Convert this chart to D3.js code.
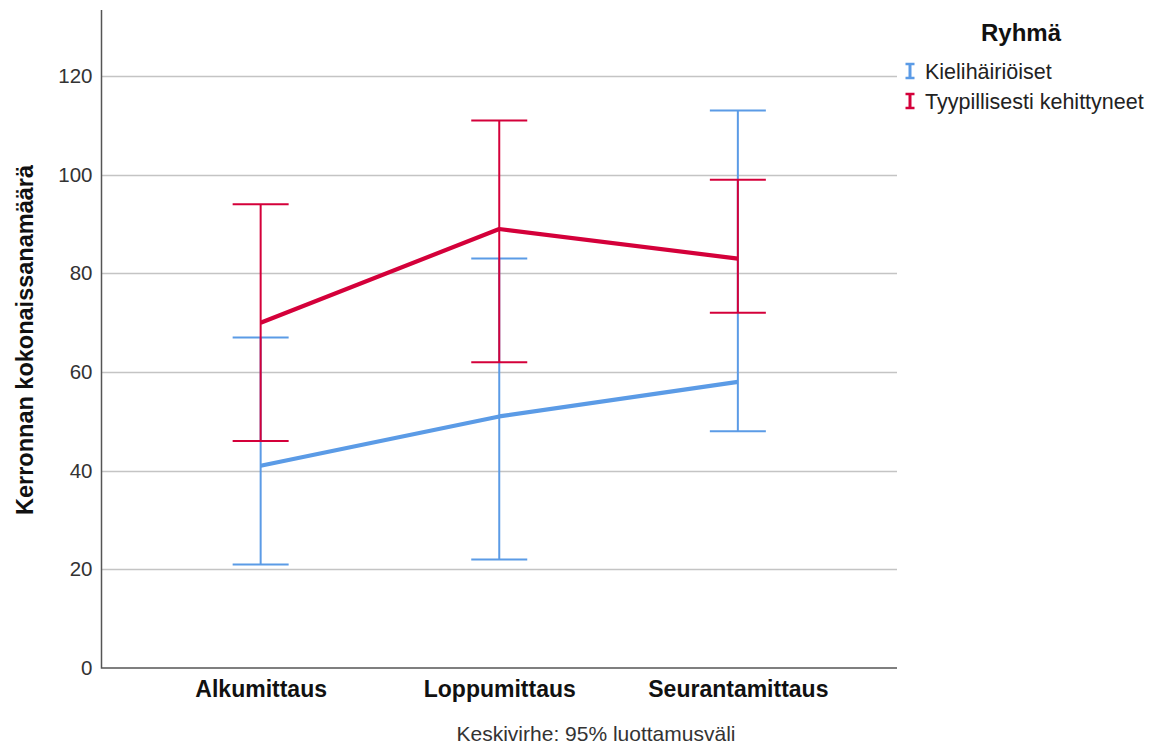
<!DOCTYPE html>
<html>
<head>
<meta charset="utf-8">
<script src="https://cdn.jsdelivr.net/npm/d3@7"></script>
<style>
  html, body { margin: 0; padding: 0; background: #fff; }
  svg { display: block; font-family: "Liberation Sans", Arial, sans-serif; }
</style>
</head>
<body>
<svg id="chart" width="1160" height="748"></svg>
<script>
// Mittauskerrat (x-akseli)
const categories = ["Alkumittaus", "Loppumittaus", "Seurantamittaus"];
// Ryhmät
const groups = ["Kielihäiriöiset", "Tyypillisesti kehittyneet"];
// Keskiarvot ja 95 %:n luottamusvälit
const meanKieli = [41, 51, 58];
const lowerKieli = [21, 22, 48];
const upperKieli = [67, 83, 113];
const meanTyyp = [70, 89, 83];
const lowerTyyp = [46, 62, 72];
const upperTyyp = [94, 111, 99];
// Y-akselin jaot
const yTicks = [0, 20, 40, 60, 80, 100, 120];

const colors = ["#5b9be6", "#d4003a"];
const series = [
  { name: groups[0], mean: meanKieli, lo: lowerKieli, hi: upperKieli, color: colors[0] },
  { name: groups[1], mean: meanTyyp, lo: lowerTyyp, hi: upperTyyp, color: colors[1] }
];

const svg = d3.select("#chart");
const plot = { left: 101.5, right: 897, top: 10, bottom: 668 };

const x = d3.scalePoint().domain(categories).range([plot.left, plot.right]).padding(0.667);
const y = d3.scaleLinear().domain([0, 133.4]).range([plot.bottom, plot.top]);

// Vaakasuorat apuviivat
svg.append("g").selectAll("line").data(yTicks.filter(d => d > 0)).join("line")
  .attr("x1", plot.left).attr("x2", plot.right)
  .attr("y1", d => Math.round(y(d)) + 0.5).attr("y2", d => Math.round(y(d)) + 0.5)
  .attr("stroke", "#c4c4c4").attr("stroke-width", 1.5);

// Y-akseli
const yAxis = svg.append("g").attr("transform", `translate(${plot.left},0)`)
  .call(d3.axisLeft(y).tickValues(yTicks).tickSize(0).tickPadding(9));
yAxis.select(".domain").remove();
yAxis.selectAll("text").attr("font-size", 20.5).attr("fill", "#333")
  .attr("font-family", "Liberation Sans, Arial, sans-serif");

// X-akseli
const xAxis = svg.append("g").attr("transform", `translate(0,${plot.bottom})`)
  .call(d3.axisBottom(x).tickSize(0).tickPadding(13));
xAxis.select(".domain").remove();
xAxis.selectAll("text").attr("font-size", 23).attr("font-weight", "bold").attr("fill", "#111")
  .attr("font-family", "Liberation Sans, Arial, sans-serif");

// Akseliviivat
svg.append("path")
  .attr("d", `M${plot.left},${plot.top}V${plot.bottom}H${plot.right}`)
  .attr("fill", "none").attr("stroke", "#555").attr("stroke-width", 1.5);

const capHalf = 28;

series.forEach(s => {
  const g = svg.append("g");
  // Luottamusvälit
  categories.forEach((c, i) => {
    const cx = x(c);
    g.append("line").attr("x1", cx).attr("x2", cx)
      .attr("y1", y(s.lo[i])).attr("y2", y(s.hi[i]))
      .attr("stroke", s.color).attr("stroke-width", 2);
    [s.lo[i], s.hi[i]].forEach(v => {
      g.append("line").attr("x1", cx - capHalf).attr("x2", cx + capHalf)
        .attr("y1", y(v)).attr("y2", y(v))
        .attr("stroke", s.color).attr("stroke-width", 2);
    });
  });
  // Keskiarvoviiva
  g.append("path")
    .datum(s.mean)
    .attr("d", d3.line().x((d, i) => x(categories[i])).y(d => y(d)))
    .attr("fill", "none").attr("stroke", s.color).attr("stroke-width", 4.2)
    .attr("stroke-linejoin", "round");
});

// Y-akselin otsikko
svg.append("text")
  .attr("transform", "translate(33,340) rotate(-90)")
  .attr("text-anchor", "middle")
  .attr("font-size", 23.5).attr("font-weight", "bold").attr("fill", "#111")
  .text("Kerronnan kokonaissanamäärä");

// Alaviite
svg.append("text")
  .attr("x", 596).attr("y", 741).attr("text-anchor", "middle")
  .attr("font-size", 21).attr("fill", "#333")
  .text("Keskivirhe: 95% luottamusväli");

// Selite
svg.append("text")
  .attr("x", 1021).attr("y", 41).attr("text-anchor", "middle")
  .attr("font-size", 24).attr("font-weight", "bold").attr("fill", "#111")
  .text("Ryhmä");

const legend = svg.append("g");
series.forEach((s, i) => {
  const ly = 71 + i * 30;
  const mx = 910;
  const lg = legend.append("g");
  lg.append("line").attr("x1", mx).attr("x2", mx).attr("y1", ly - 7).attr("y2", ly + 7)
    .attr("stroke", s.color).attr("stroke-width", 3);
  lg.append("line").attr("x1", mx - 4.5).attr("x2", mx + 4.5).attr("y1", ly - 7).attr("y2", ly - 7)
    .attr("stroke", s.color).attr("stroke-width", 2.5);
  lg.append("line").attr("x1", mx - 4.5).attr("x2", mx + 4.5).attr("y1", ly + 7).attr("y2", ly + 7)
    .attr("stroke", s.color).attr("stroke-width", 2.5);
  lg.append("text").attr("x", 925).attr("y", ly + 7.5)
    .attr("font-size", 21.5).attr("fill", "#222")
    .text(s.name);
});
</script>
</body>
</html>
